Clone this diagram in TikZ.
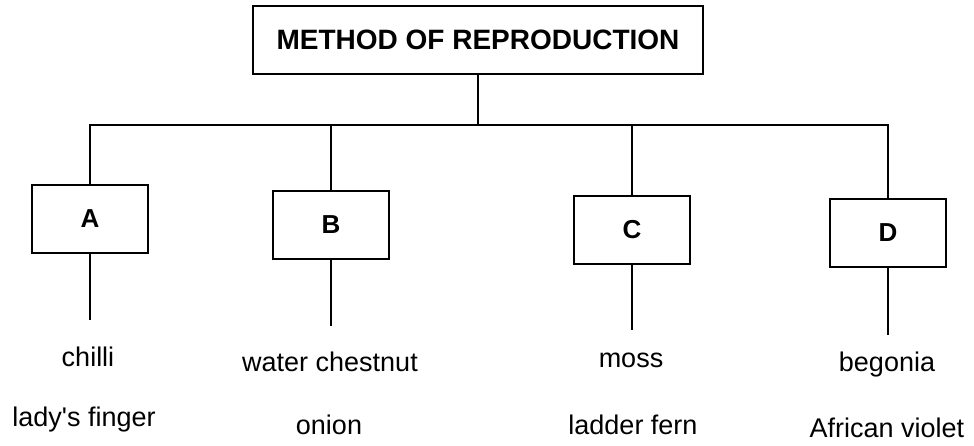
\documentclass[tikz,border=0pt]{standalone}
\usepackage{fontspec}
\setmainfont{Liberation Sans}
\usetikzlibrary{positioning}
\tikzstyle{title} = [rectangle, minimum width=450pt, minimum height=68pt, text centered, draw=black, line width=1.5pt, font=\fontsize{28}{32}\selectfont\bfseries]
\tikzstyle{method} = [rectangle, minimum width=116pt, minimum height=68pt, text centered, draw=black, line width=1.5pt, font=\fontsize{26}{30}\selectfont\bfseries]
\tikzstyle{plant} = [text centered, font=\fontsize{27}{32}\selectfont]
\tikzstyle{line} = [line width=1.5pt]

\begin{document}
\begin{tikzpicture}[x=1pt, y=-1pt]
\useasboundingbox (0,0) rectangle (974,445);
%Heading
\node(reproduction)at(478,40)[title]{METHOD OF REPRODUCTION};
\coordinate(bus)at(478,125);

%Methods
\node(A)at(90,219)[method]{A};
\node(B)at(331,225)[method]{B};
\node(C)at(632,230)[method]{C};
\node(D)at(888,233)[method]{D};
\coordinate(endA)at(90,320);
\coordinate(endB)at(331,326);
\coordinate(endC)at(632,330);
\coordinate(endD)at(888,335);

%Plants
\node(chilli)at(88,357)[plant]{chilli};
\node(chestnut)at(330,362)[plant]{water chestnut};
\node(moss)at(631,360)[plant]{moss};
\node(begonia)at(887,365)[plant]{begonia};
\node(finger)at(84,420)[plant]{lady\textquotesingle s finger};
\node(onion)at(329,425)[plant]{onion};
\node(fern)at(633,425)[plant]{ladder fern};
\node(violet)at(887,428)[plant]{African violet};

%lines
\draw[line](reproduction)--(bus);
\draw[line](A.north)|-(bus);
\draw[line](D.north)|-(bus);
\draw[line](B.north)--(B.north|-bus);
\draw[line](C.north)--(C.north|-bus);
    \draw[line](A)--(endA);
    \draw[line](B)--(endB);
    \draw[line](C)--(endC);
    \draw[line](D)--(endD);
\end{tikzpicture}
\end{document}
